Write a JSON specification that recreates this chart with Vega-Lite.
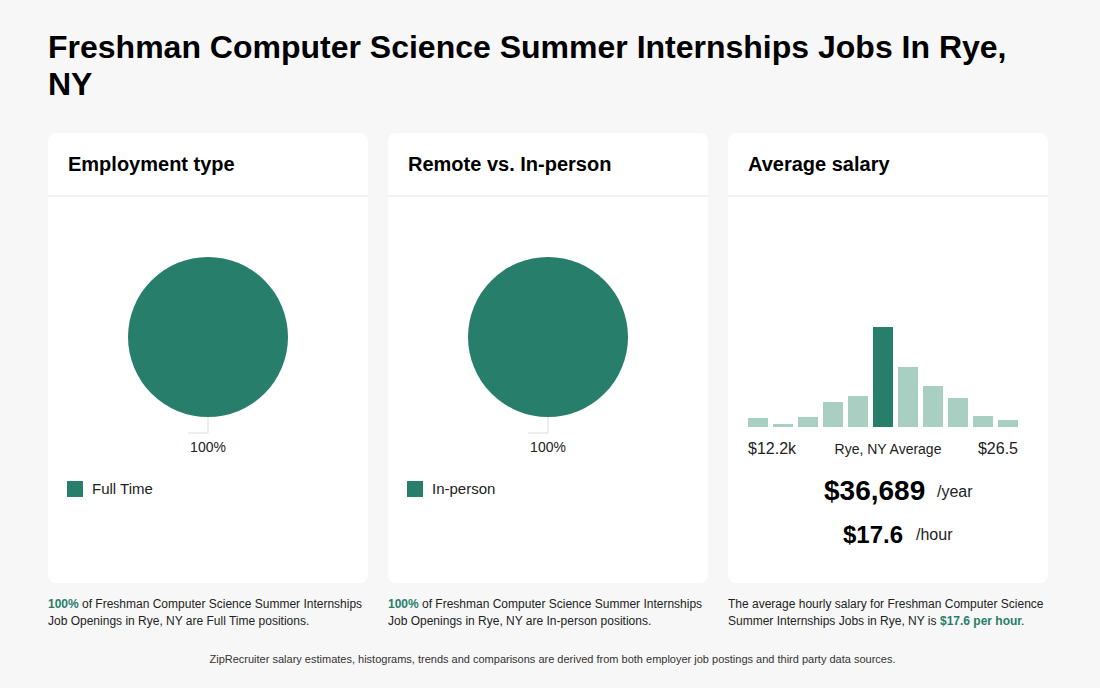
{
  "$schema": "https://vega.github.io/schema/vega-lite/v6.json",
  "description": "Freshman CS summer internships in Rye, NY",
  "background": "#f7f7f7",
  "padding": {"left": 47, "top": 31, "right": 60, "bottom": 40},
  "bounds": "flush",
  "spacing": 20,
  "config": {
    "font": "Liberation Sans",
    "view": {"fill": "white", "stroke": null, "cornerRadius": 8},
    "text": {"baseline": "alphabetic", "align": "left"}
  },
  "resolve": {"scale": {"color": "independent"}, "legend": {"color": "independent"}},
  "hconcat": [
    {
      "width": 320,
      "height": 450,
      "data": {"values": [{}]},
      "layer": [
        {
          "mark": {"type": "rect", "color": "white", "cornerRadius": 8},
          "encoding": {"x": {"value": 0}, "x2": {"value": "width"}, "y": {"value": 0}, "y2": {"value": "height"}}
        },
        {"mark": {"type": "text", "text": "Freshman Computer Science Summer Internships Jobs In Rye,", "x": 0, "y": -75.3, "fontSize": 32, "fontWeight": "bold", "color": "#000"}},
        {"mark": {"type": "text", "text": "NY", "x": 0, "y": -38, "fontSize": 32, "fontWeight": "bold", "color": "#000"}},
        {"mark": {"type": "text", "text": "Employment type", "x": 20, "y": 38, "fontSize": 20, "fontWeight": "bold", "color": "#000"}},
        {"mark": {"type": "rule", "color": "#e3e3e3"}, "encoding": {"x": {"value": 0}, "x2": {"value": "width"}, "y": {"value": 63}}},
        {
          "data": {"values": [{"type": "Full Time", "share": 100}]},
          "mark": {"type": "arc", "outerRadius": 80, "x": 160, "y": 204},
          "encoding": {
            "theta": {"field": "share", "type": "quantitative"},
            "color": {
              "field": "type",
              "type": "nominal",
              "scale": {"domain": ["Full Time"], "range": ["#277e6a"]},
              "legend": {"orient": "none", "legendX": 19, "legendY": 348, "title": null, "symbolType": "square", "symbolSize": 256, "symbolStrokeWidth": 0, "labelFontSize": 15, "labelColor": "#222", "labelOffset": 9, "padding": 0}
            }
          }
        },
        {"mark": {"type": "rule", "color": "#dddddd"}, "encoding": {"x": {"value": 160}, "y": {"value": 284}, "y2": {"value": 300}}},
        {"mark": {"type": "rule", "color": "#dddddd"}, "encoding": {"x": {"value": 140}, "x2": {"value": 160}, "y": {"value": 300}}},
        {"mark": {"type": "text", "text": "100%", "x": 160, "y": 319, "align": "center", "fontSize": 14, "color": "#222"}},
        {"mark": {"type": "text", "text": "100%", "x": 0, "y": 475, "fontSize": 12, "fontWeight": "bold", "color": "#277e6a"}},
        {"mark": {"type": "text", "text": "of Freshman Computer Science Summer Internships", "x": 34, "y": 475, "fontSize": 12, "color": "#222"}},
        {"mark": {"type": "text", "text": "Job Openings in Rye, NY are Full Time positions.", "x": 0, "y": 492, "fontSize": 12, "color": "#222"}}
      ]
    },
    {
      "width": 320,
      "height": 450,
      "data": {"values": [{}]},
      "layer": [
        {
          "mark": {"type": "rect", "color": "white", "cornerRadius": 8},
          "encoding": {"x": {"value": 0}, "x2": {"value": "width"}, "y": {"value": 0}, "y2": {"value": "height"}}
        },
        {"mark": {"type": "text", "text": "Remote vs. In-person", "x": 20, "y": 38, "fontSize": 20, "fontWeight": "bold", "color": "#000"}},
        {"mark": {"type": "rule", "color": "#e3e3e3"}, "encoding": {"x": {"value": 0}, "x2": {"value": "width"}, "y": {"value": 63}}},
        {
          "data": {"values": [{"type": "In-person", "share": 100}]},
          "mark": {"type": "arc", "outerRadius": 80, "x": 160, "y": 204},
          "encoding": {
            "theta": {"field": "share", "type": "quantitative"},
            "color": {
              "field": "type",
              "type": "nominal",
              "scale": {"domain": ["In-person"], "range": ["#277e6a"]},
              "legend": {"orient": "none", "legendX": 19, "legendY": 348, "title": null, "symbolType": "square", "symbolSize": 256, "symbolStrokeWidth": 0, "labelFontSize": 15, "labelColor": "#222", "labelOffset": 9, "padding": 0}
            }
          }
        },
        {"mark": {"type": "rule", "color": "#dddddd"}, "encoding": {"x": {"value": 160}, "y": {"value": 284}, "y2": {"value": 300}}},
        {"mark": {"type": "rule", "color": "#dddddd"}, "encoding": {"x": {"value": 140}, "x2": {"value": 160}, "y": {"value": 300}}},
        {"mark": {"type": "text", "text": "100%", "x": 160, "y": 319, "align": "center", "fontSize": 14, "color": "#222"}},
        {"mark": {"type": "text", "text": "100%", "x": 0, "y": 475, "fontSize": 12, "fontWeight": "bold", "color": "#277e6a"}},
        {"mark": {"type": "text", "text": "of Freshman Computer Science Summer Internships", "x": 34, "y": 475, "fontSize": 12, "color": "#222"}},
        {"mark": {"type": "text", "text": "Job Openings in Rye, NY are In-person positions.", "x": 0, "y": 492, "fontSize": 12, "color": "#222"}},
        {"mark": {"type": "text", "text": "ZipRecruiter salary estimates, histograms, trends and comparisons are derived from both employer job postings and third party data sources.", "x": 164.5, "y": 530, "align": "center", "fontSize": 11, "color": "#333"}}
      ]
    },
    {
      "width": 320,
      "height": 450,
      "data": {"values": [{}]},
      "layer": [
        {"mark": {"type": "text", "text": "Average salary", "x": 20, "y": 38, "fontSize": 20, "fontWeight": "bold", "color": "#000"}},
        {"mark": {"type": "rule", "color": "#e3e3e3"}, "encoding": {"x": {"value": 0}, "x2": {"value": "width"}, "y": {"value": 63}}},
        {
          "data": {
            "values": [
              {"bin": 1, "share": 9, "is_average": false},
              {"bin": 2, "share": 3, "is_average": false},
              {"bin": 3, "share": 10, "is_average": false},
              {"bin": 4, "share": 25, "is_average": false},
              {"bin": 5, "share": 31, "is_average": false},
              {"bin": 6, "share": 100, "is_average": true},
              {"bin": 7, "share": 60, "is_average": false},
              {"bin": 8, "share": 41, "is_average": false},
              {"bin": 9, "share": 29, "is_average": false},
              {"bin": 10, "share": 11, "is_average": false},
              {"bin": 11, "share": 7, "is_average": false}
            ]
          },
          "mark": {"type": "bar"},
          "encoding": {
            "x": {"field": "bin", "type": "ordinal", "axis": null, "scale": {"range": [20, 290], "paddingInner": 0.2, "paddingOuter": 0}},
            "y": {"field": "share", "type": "quantitative", "axis": null, "scale": {"domain": [0, 100], "range": [294, 194]}},
            "color": {"condition": {"test": "datum.is_average", "value": "#277e6a"}, "value": "#a9cfc3"}
          }
        },
        {"mark": {"type": "text", "text": "$12.2k", "x": 20, "y": 321, "fontSize": 16, "color": "#222"}},
        {"mark": {"type": "text", "text": "Rye, NY Average", "x": 160, "y": 321, "align": "center", "fontSize": 14, "color": "#222"}},
        {"mark": {"type": "text", "text": "$26.5", "x": 290, "y": 321, "align": "right", "fontSize": 16, "color": "#222"}},
        {"mark": {"type": "text", "text": "$36,689", "x": 96, "y": 367, "fontSize": 28, "fontWeight": "bold", "color": "#000"}},
        {"mark": {"type": "text", "text": "/year", "x": 209, "y": 364, "fontSize": 16, "color": "#222"}},
        {"mark": {"type": "text", "text": "$17.6", "x": 115, "y": 410, "fontSize": 24, "fontWeight": "bold", "color": "#000"}},
        {"mark": {"type": "text", "text": "/hour", "x": 188, "y": 407, "fontSize": 16, "color": "#222"}},
        {"mark": {"type": "text", "text": "The average hourly salary for Freshman Computer Science", "x": 0, "y": 475, "fontSize": 12, "color": "#222"}},
        {"mark": {"type": "text", "text": "Summer Internships Jobs in Rye, NY is", "x": 0, "y": 492, "fontSize": 12, "color": "#222"}},
        {"mark": {"type": "text", "text": "$17.6 per hour", "x": 212, "y": 492, "fontSize": 12, "fontWeight": "bold", "color": "#277e6a"}},
        {"mark": {"type": "text", "text": ".", "x": 293, "y": 492, "fontSize": 12, "color": "#222"}}
      ]
    }
  ]
}
